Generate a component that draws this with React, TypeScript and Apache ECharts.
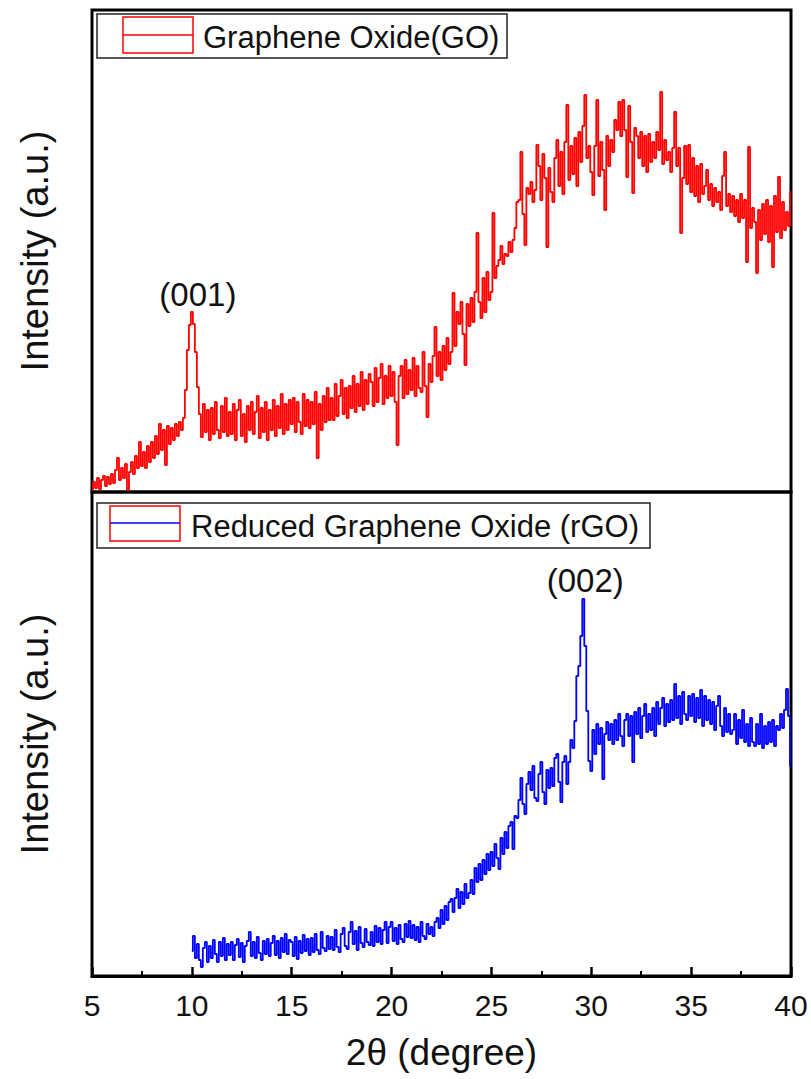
import React, { useEffect, useRef } from "react";
import * as echarts from "echarts";

// 2θ sampling grid of the two scans (degrees)
const GO_START = 5.0;
const RGO_START = 10.0;
const STEP = 0.1;

// Graphene Oxide (GO) intensity, a.u., 5.0° .. 40.0° every 0.1°
const goIntensity = [
  2, 10, 4, 14, 3, 12, 16, 6, 15, 8,
  18, 9, 22, 34, 12, 24, 14, 28, 2, 20,
  30, 18, 36, 24, 50, 26, 40, 24, 46, 30,
  50, 34, 56, 38, 68, 42, 62, 27, 66, 48,
  64, 52, 68, 56, 70, 62, 74, 102, 142, 167,
  180, 168, 140, 105, 78, 55, 88, 60, 82, 52,
  84, 58, 90, 62, 54, 86, 60, 94, 56, 80,
  58, 88, 52, 82, 92, 56, 78, 50, 86, 62,
  90, 58, 80, 96, 54, 84, 60, 90, 52, 82,
  62, 92, 56, 86, 64, 98, 58, 88, 62, 92,
  68, 94, 60, 90, 70, 58, 98, 66, 92, 64,
  90, 68, 100, 34, 88, 62, 96, 70, 104, 72,
  94, 72, 108, 76, 96, 112, 78, 104, 74, 106,
  84, 116, 80, 108, 86, 120, 82, 112, 88, 118,
  110, 86, 124, 90, 114, 128, 88, 116, 94, 126,
  96, 120, 90, 47, 116, 126, 94, 132, 98, 122,
  102, 134, 96, 126, 104, 100, 140, 106, 75, 128,
  110, 136, 165, 116, 140, 112, 146, 122, 154, 128,
  140, 199, 146, 180, 168, 190, 158, 127, 188, 166,
  194, 170, 200, 259, 190, 174, 214, 180, 220, 192,
  200, 279, 214, 226, 232, 246, 228, 238, 236, 250,
  240, 252, 264, 290, 292, 340, 278, 247, 304, 298,
  310, 290, 302, 347, 326, 292, 338, 314, 245, 324,
  300, 290, 334, 352, 306, 340, 298, 350, 387, 312,
  346, 318, 354, 306, 360, 330, 366, 397, 334, 346,
  320, 297, 346, 392, 316, 350, 322, 282, 356, 326,
  352, 340, 372, 362, 390, 356, 392, 362, 315, 386,
  350, 299, 364, 356, 334, 360, 326, 356, 320, 358,
  330, 350, 334, 360, 342, 400, 328, 352, 332, 340,
  320, 344, 380, 326, 344, 259, 314, 346, 308, 347,
  300, 334, 296, 326, 290, 328, 298, 306, 322, 292,
  308, 286, 304, 290, 300, 282, 316, 340, 286, 298,
  280, 296, 276, 292, 270, 298, 274, 292, 230, 345,
  264, 284, 270, 219, 282, 252, 288, 258, 292, 250,
  286, 225, 296, 260, 315, 254, 290, 262, 280, 266,
  300,
];

// Reduced Graphene Oxide (rGO) intensity, a.u., 10.0° .. 40.0° every 0.1°
const rgoIntensity = [
  25, 40, 18, 32, 16, 9, 28, 34, 14, 30,
  18, 36, 22, 14, 34, 20, 38, 16, 32, 21,
  34, 16, 31, 37, 19, 33, 14, 30, 35, 44,
  20, 34, 18, 39, 23, 16, 35, 22, 37, 20,
  33, 40, 21, 35, 18, 38, 24, 42, 22, 36,
  34, 20, 39, 17, 35, 23, 41, 25, 37, 21,
  38, 24, 42, 26, 22, 44, 28, 25, 40, 27,
  39, 26, 46, 29, 24, 42, 48, 30, 27, 44,
  54, 32, 45, 26, 49, 33, 29, 47, 34, 31,
  44, 30, 50, 34, 48, 32, 46, 54, 33, 49,
  54, 35, 48, 32, 51, 37, 34, 52, 39, 55,
  38, 51, 36, 49, 34, 54, 40, 37, 52, 42,
  49, 40, 54, 58, 48, 66, 52, 70, 56, 74,
  77, 64, 78, 87, 68, 84, 72, 92, 78, 83,
  96, 82, 108, 94, 112, 96, 116, 102, 122, 106,
  124, 110, 132, 118, 107, 138, 122, 144, 128, 150,
  154, 127, 160, 158, 176, 198, 172, 162, 192, 204,
  186, 210, 178, 175, 202, 214, 184, 172, 206, 188,
  208, 190, 218, 222, 194, 174, 214, 220, 192, 214,
  236, 228, 255, 300, 310, 340, 377, 330, 265, 215,
  205, 246, 222, 252, 232, 248, 197, 242, 254, 236,
  252, 232, 256, 236, 262, 240, 230, 256, 262, 240,
  260, 214, 264, 242, 268, 238, 260, 272, 244, 262,
  246, 268, 240, 274, 252, 268, 278, 250, 272, 254,
  276, 256, 292, 258, 280, 252, 284, 262, 256, 280,
  260, 282, 254, 278, 258, 286, 250, 280, 256, 276,
  252, 274, 246, 270, 280, 250, 240, 268, 244, 262,
  242, 246, 262, 232, 256, 238, 266, 234, 252, 230,
  258, 234, 230, 252, 232, 262, 228, 250, 232, 254,
  234, 256, 230, 250, 246, 262, 248, 266, 287, 260,
  210,
];

const SERIES_NAMES = ["Graphene Oxide(GO)", "Reduced Graphene Oxide (rGO)"];
const PEAK_LABELS = ["(001)", "(002)"];
const PEAK_POS = [
  [10.0, 180],
  [29.6, 377],
];
const X_TITLE = "2θ (degree)";
const Y_TITLE = "Intensity (a.u.)";

const FONT = "'Liberation Sans', Arial, sans-serif";

function toPairs(start: number, vals: number[]) {
  return vals.map((v, i) => [Number((start + i * STEP).toFixed(2)), v]);
}

export default function App() {
  const ref = useRef<HTMLDivElement>(null);
  useEffect(() => {
    if (!ref.current) return;
    const chart = echarts.init(ref.current, null, { renderer: "svg" });
    const yName = {
      name: Y_TITLE,
      nameLocation: "middle" as const,
      nameRotate: 90,
      nameGap: 38,
      nameTextStyle: { fontSize: 38, fontFamily: FONT, color: "#111" },
      axisLine: { show: false },
      axisTick: { show: false },
      axisLabel: { show: false },
      splitLine: { show: false },
    };
    chart.setOption({
      animation: false,
      backgroundColor: "#fff",
      grid: [
        { left: 92, top: 10, width: 699, height: 482, show: true, borderColor: "#000", borderWidth: 3, backgroundColor: "transparent" },
        { left: 92, top: 492, width: 699, height: 484, show: true, borderColor: "#000", borderWidth: 3, backgroundColor: "transparent" },
      ],
      xAxis: [
        { type: "value", gridIndex: 0, min: 5, max: 40, interval: 5, show: false },
        {
          type: "value",
          gridIndex: 1,
          min: 5,
          max: 40,
          interval: 5,
          axisLine: { show: true, lineStyle: { color: "#000", width: 3 } },
          axisTick: { show: true, inside: true, length: 9, lineStyle: { color: "#000", width: 2.5 } },
          minorTick: { show: true, splitNumber: 2, length: 5, lineStyle: { color: "#000", width: 2 } },
          axisLabel: { fontSize: 30, fontFamily: FONT, color: "#111", margin: 14 },
          splitLine: { show: false },
          name: X_TITLE,
          nameLocation: "middle",
          nameGap: 58,
          nameTextStyle: { fontSize: 37, fontFamily: FONT, color: "#111" },
        },
      ],
      yAxis: [
        { type: "value", gridIndex: 0, min: 0, max: 482, ...yName },
        { type: "value", gridIndex: 1, min: 0, max: 484, ...yName },
      ],
      series: [
        {
          name: SERIES_NAMES[0],
          type: "line",
          step: "middle",
          xAxisIndex: 0,
          yAxisIndex: 0,
          data: toPairs(GO_START, goIntensity),
          showSymbol: false,
          symbol: "none",
          lineStyle: { color: "#ff0000", width: 1.8 },
          itemStyle: { color: "#ff0000" },
          markPoint: {
            symbol: "circle",
            symbolSize: 1,
            itemStyle: { color: "rgba(0,0,0,0)" },
            label: {
              show: true,
              position: "top",
              distance: 1,
              offset: [6, 0],
              formatter: PEAK_LABELS[0],
              fontSize: 33,
              fontFamily: FONT,
              color: "#111",
            },
            data: [{ coord: PEAK_POS[0] }],
          },
        },
        {
          name: SERIES_NAMES[1],
          type: "line",
          step: "middle",
          xAxisIndex: 1,
          yAxisIndex: 1,
          data: toPairs(RGO_START, rgoIntensity),
          showSymbol: false,
          symbol: "none",
          lineStyle: { color: "#0000ff", width: 1.8 },
          itemStyle: { color: "#0000ff" },
          markPoint: {
            symbol: "circle",
            symbolSize: 1,
            itemStyle: { color: "rgba(0,0,0,0)" },
            label: {
              show: true,
              position: "top",
              distance: 2,
              offset: [2, 0],
              formatter: PEAK_LABELS[1],
              fontSize: 33,
              fontFamily: FONT,
              color: "#111",
            },
            data: [{ coord: PEAK_POS[1] }],
          },
        },
      ],
      graphic: [
        { type: "rect", shape: { x: 97, y: 14, width: 410, height: 44 }, style: { fill: "#fff", stroke: "#222", lineWidth: 1.5 }, z: 10 },
        { type: "rect", shape: { x: 123, y: 17, width: 70, height: 36 }, style: { fill: "none", stroke: "#ff0000", lineWidth: 1.5 }, z: 11 },
        { type: "line", shape: { x1: 123, y1: 35, x2: 193, y2: 35 }, style: { stroke: "#ff0000", lineWidth: 1.5 }, z: 11 },
        { type: "text", x: 203, y: 37, style: { text: SERIES_NAMES[0], fontSize: 31, fontFamily: FONT, fill: "#111", textVerticalAlign: "middle" }, z: 11 },
        { type: "rect", shape: { x: 97, y: 503, width: 553, height: 45 }, style: { fill: "#fff", stroke: "#222", lineWidth: 1.5 }, z: 10 },
        { type: "rect", shape: { x: 110, y: 506, width: 70, height: 35 }, style: { fill: "none", stroke: "#ff0000", lineWidth: 1.5 }, z: 11 },
        { type: "line", shape: { x1: 110, y1: 523, x2: 180, y2: 523 }, style: { stroke: "#0000ff", lineWidth: 1.5 }, z: 11 },
        { type: "text", x: 191, y: 526, style: { text: SERIES_NAMES[1], fontSize: 31, fontFamily: FONT, fill: "#111", textVerticalAlign: "middle" }, z: 11 },
      ],
    });
    return () => chart.dispose();
  }, []);
  return (
    <div
      ref={ref}
      style={{ position: "fixed", left: 0, top: 0, width: 811, height: 1079, background: "#fff" }}
    />
  );
}
